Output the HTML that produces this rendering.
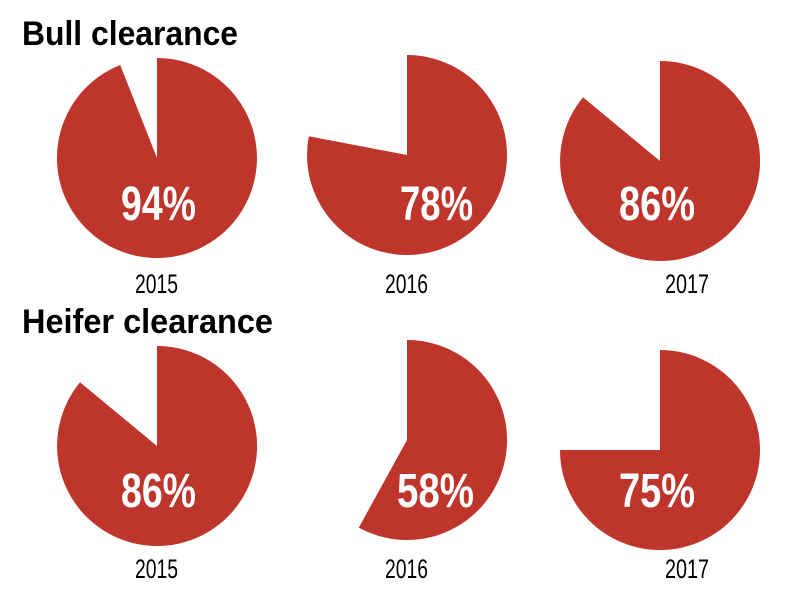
<!DOCTYPE html>
<html><head><meta charset="utf-8"><style>html,body{margin:0;padding:0;background:#fff;}svg{display:block}</style></head>
<body>
<svg width="790" height="590" viewBox="0 0 790 590" xmlns="http://www.w3.org/2000/svg" font-family="'Liberation Sans', sans-serif">
<g fill="#be352b">
<path d="M157,158 L157,58 A100,100 0 1 1 120.2,65 Z"/>
<path d="M407,155 L407,55 A100,100 0 1 1 308.8,136.3 Z"/>
<path d="M660,161 L660,61 A100,100 0 1 1 583,97.3 Z"/>
<path d="M157,446 L157,346 A100,100 0 1 1 80,382.3 Z"/>
<path d="M407,440 L407,340 A100,100 0 1 1 358.8,527.6 Z"/>
<path d="M660,450 L660,350 A100,100 0 1 1 560,450 Z"/>
</g>
<g font-weight="bold" fill="#000" font-size="34">
<text x="22" y="45" textLength="216" lengthAdjust="spacingAndGlyphs">Bull clearance</text>
<text x="22" y="333" textLength="251" lengthAdjust="spacingAndGlyphs">Heifer clearance</text>
</g>
<g font-weight="bold" fill="#fff" font-size="48">
<text x="121" y="220" textLength="75" lengthAdjust="spacingAndGlyphs">94%</text>
<text x="400" y="220" textLength="73" lengthAdjust="spacingAndGlyphs">78%</text>
<text x="619" y="220" textLength="76" lengthAdjust="spacingAndGlyphs">86%</text>
<text x="121" y="507" textLength="75" lengthAdjust="spacingAndGlyphs">86%</text>
<text x="397" y="507" textLength="77" lengthAdjust="spacingAndGlyphs">58%</text>
<text x="619" y="507" textLength="76" lengthAdjust="spacingAndGlyphs">75%</text>
</g>
<g fill="#000" font-size="27">
<text x="135" y="293" textLength="43" lengthAdjust="spacingAndGlyphs">2015</text>
<text x="385" y="293" textLength="43" lengthAdjust="spacingAndGlyphs">2016</text>
<text x="665" y="293" textLength="44" lengthAdjust="spacingAndGlyphs">2017</text>
<text x="135" y="578" textLength="43" lengthAdjust="spacingAndGlyphs">2015</text>
<text x="385" y="578" textLength="43" lengthAdjust="spacingAndGlyphs">2016</text>
<text x="665" y="578" textLength="44" lengthAdjust="spacingAndGlyphs">2017</text>
</g>
</svg>
</body></html>
